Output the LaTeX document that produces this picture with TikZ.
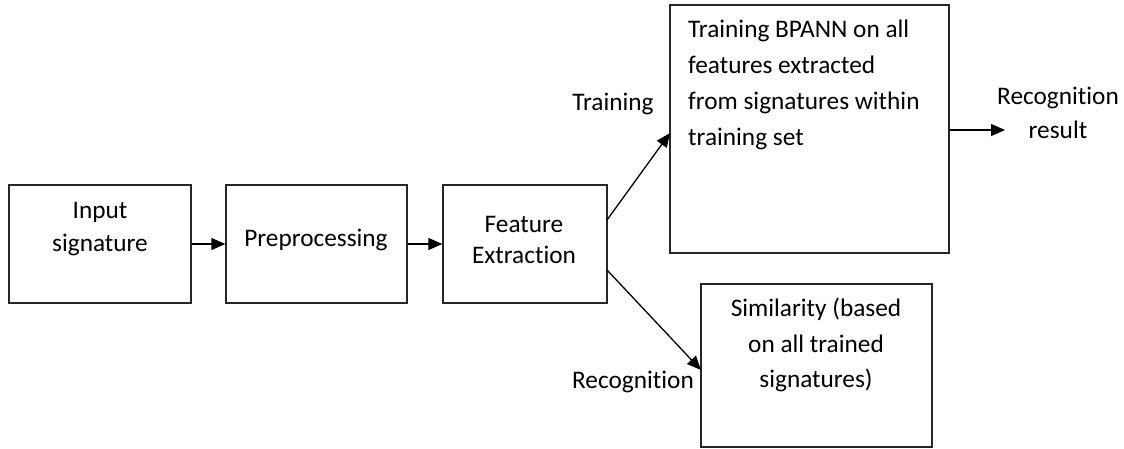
\documentclass[tikz,border=0pt]{standalone}
\usepackage{fontspec}
\setmainfont{Carlito}[RawFeature={-liga}]
\usetikzlibrary{arrows.meta}
\begin{document}
\begin{tikzpicture}[x=1pt,y=-1pt,
  box/.style={draw=black!85, line width=1.3pt, inner sep=0pt},
  txt/.style={inner sep=0pt, align=center, font=\fontsize{25.3}{34}\selectfont},
  conn/.style={draw=black, line width=1.3pt, -{Triangle[length=14pt,width=12pt]}}]
\useasboundingbox (0,0) rectangle (1124,448);
% boxes
\node[box, minimum width=182pt, minimum height=118pt] (b1) at (100,244) {};
\node[box, minimum width=181pt, minimum height=118pt] (b2) at (316.5,244) {};
\node[box, minimum width=164pt, minimum height=118pt] (b3) at (525,244) {};
\node[box, minimum width=279pt, minimum height=248pt] (b4) at (809.5,129) {};
\node[box, minimum width=231pt, minimum height=163pt] (b5) at (816.5,365.5) {};
% texts
\node[txt, font=\fontsize{25.3}{33}\selectfont] (t1) at (100,229) {Input\\signature};
\node[txt] (t2) at (316,240) {Preprocessing};
\node[txt, font=\fontsize{25.3}{31}\selectfont] (t3) at (524,240) {Feature\\Extraction};
\node[txt, align=left, anchor=west, font=\fontsize{25.3}{36}\selectfont] (t4) at (688,85) {Training BPANN on all\\features extracted\\from signatures within\\training set};
\node[txt, font=\fontsize{25.3}{35.5}\selectfont] (t5) at (816,345) {Similarity (based\\on all trained\\signatures)};
\node[txt] (ltrain) at (613,104) {Training};
\node[txt] (lrec) at (633,382) {Recognition};
\node[txt] (lres) at (1058,113) {Recognition\\result};
% connector endpoints
\coordinate (s1) at (607,220);
\coordinate (e1) at (670,133);
\coordinate (s2) at (607,270);
\coordinate (e2) at (701,370);
\coordinate (o1) at (1005,130);
% connectors
\draw[conn] (b1.east) -- (b2.west);
\draw[conn] (b2.east) -- (b3.west);
\draw[conn] (s1) -- (e1);
\draw[conn] (s2) -- (e2);
\draw[conn] (b4.east |- o1) -- (o1);
\end{tikzpicture}
\end{document}
